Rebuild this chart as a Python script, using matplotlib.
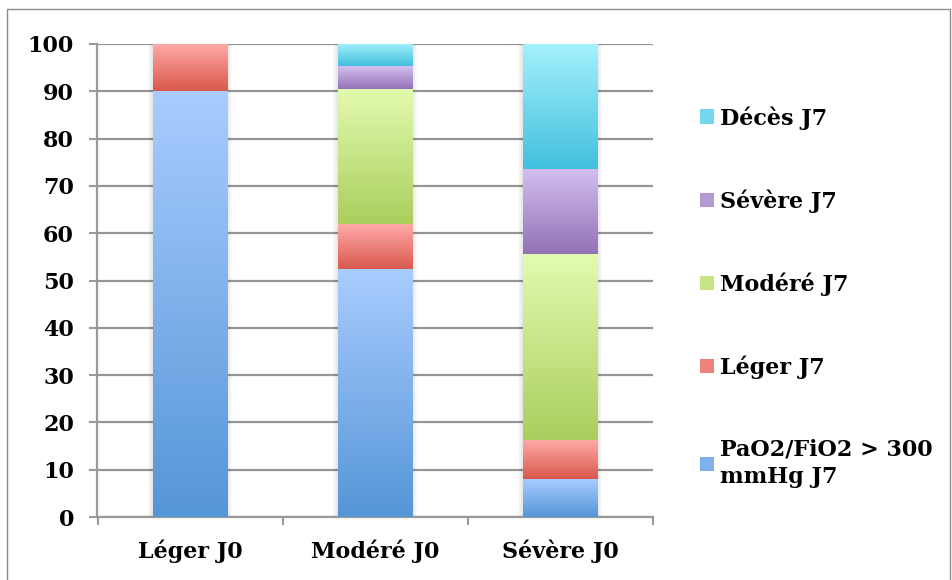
import numpy as np
import matplotlib
matplotlib.use('Agg')
import matplotlib.pyplot as plt
from matplotlib.patches import Patch, Rectangle
from matplotlib.colors import LinearSegmentedColormap

categories = ['Léger J0', 'Modéré J0', 'Sévère J0']
series_names = ['PaO2/FiO2 > 300\nmmHg J7', 'Léger J7', 'Modéré J7', 'Sévère J7', 'Décès J7']
pao2 = [90.0, 52.4, 8.0]
leger = [10.0, 9.5, 8.3]
modere = [0.0, 28.6, 39.3]
severe = [0.0, 4.8, 18.0]
deces = [0.0, 4.7, 26.4]
series = [pao2, leger, modere, severe, deces]
yticks = list(range(0, 101, 10))

top_colors = ['#A9CCFF', '#FFABA8', '#E3FBB0', '#D3C0EF', '#A4F1FD']
bot_colors = ['#5596D7', '#DA584C', '#ABCE5D', '#9371B6', '#42C0DD']
mid_colors = ['#7EB1EB', '#EC827A', '#C7E487', '#B398D2', '#73D8EE']

FONT = 'DejaVu Serif'
FS = 16

W, H = 953, 580
fig = plt.figure(figsize=(W / 100, H / 100), dpi=100)
ax = fig.add_axes([97.5 / W, 1 - 517 / H, 555 / W, 473 / H])

x = np.arange(len(categories))
bw = 0.405
bottom = np.zeros(len(categories))
grad = np.linspace(0, 1, 256).reshape(-1, 1)
all_bars = []
for i, vals in enumerate(series):
    bars = ax.bar(x, vals, bw, bottom=bottom, color=mid_colors[i], linewidth=0, zorder=3)
    cmap = LinearSegmentedColormap.from_list(f'g{i}', [bot_colors[i], top_colors[i]])
    for b in bars:
        if b.get_height() <= 0:
            continue
        bx, by = b.get_x(), b.get_y()
        im = ax.imshow(grad, cmap=cmap, origin='lower', aspect='auto',
                       extent=[bx, bx + b.get_width(), by, by + b.get_height()],
                       zorder=3.1, interpolation='bilinear')
        im.set_clip_path(b)
    all_bars.append(bars)
    bottom = bottom + np.array(vals)

# soft shadow around the stacked columns
for j, total in enumerate(bottom):
    bx = all_bars[0][j].get_x()
    for k in range(1, 6):
        d = k * 0.005
        ax.add_patch(Rectangle((bx - d, -0.25 * k), bw + 2 * d, total + 0.5 * k,
                               facecolor='black', alpha=0.02, linewidth=0, zorder=2.5))

ax.set_xlim(-0.5, len(categories) - 0.5)
ax.set_ylim(0, 100)
ax.set_yticks(yticks)
ax.set_yticklabels([str(v) for v in yticks], fontfamily=FONT, fontweight='bold', fontsize=FS)
ax.set_xticks(x)
ax.set_xticklabels(categories, fontfamily=FONT, fontweight='bold', fontsize=FS)
ax.set_xticks(np.arange(-0.5, len(categories), 1.0), minor=True)
ax.tick_params(axis='x', which='major', length=0, pad=16)
ax.tick_params(axis='x', which='minor', length=6, width=1.5, color='#9A9A9A', direction='out')
ax.tick_params(axis='y', length=6, width=1.5, color='#9A9A9A', direction='out', pad=11)
ax.yaxis.grid(True, color='#959595', linewidth=1.6, zorder=1)
ax.set_axisbelow(True)
for s in ['top', 'right']:
    ax.spines[s].set_visible(False)
for s in ['left', 'bottom']:
    ax.spines[s].set_color('#9A9A9A')
    ax.spines[s].set_linewidth(1.6)

handles = [Patch(facecolor=mid_colors[i], edgecolor='none') for i in range(len(series))][::-1]
labels = series_names[::-1]
leg = fig.legend(handles, labels, loc='upper left', bbox_to_anchor=(700 / W, 1 - 106 / H),
                 frameon=False, prop={'family': FONT, 'weight': 'bold', 'size': FS},
                 handlelength=0.62, handleheight=0.62, handletextpad=0.3, labelspacing=2.68,
                 borderaxespad=0, borderpad=0)
for t in leg.get_texts():
    t.set_linespacing(1.35)

fig.patches.append(Rectangle((7 / W, -5 / H), 943 / W, 576 / H, transform=fig.transFigure,
                             fill=False, edgecolor='#8C8C8C', linewidth=1.0))

fig.savefig('out.png', dpi=100)
